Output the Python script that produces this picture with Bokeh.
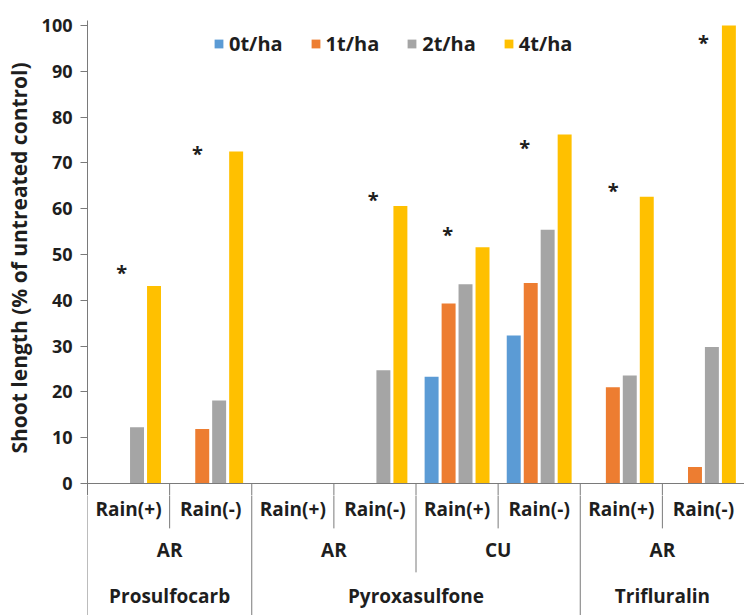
from bokeh.plotting import figure
from bokeh.layouts import column
from bokeh.models import (FactorRange, Range1d, ColumnDataSource, Legend, LegendItem,
                          FixedTicker, Span)
from bokeh.transform import dodge
from bokeh.core.properties import value
from bokeh.embed import file_html
from bokeh.resources import INLINE

# ---------------- data ----------------
herbicides = ["Prosulfocarb", "Prosulfocarb", "Pyroxasulfone", "Pyroxasulfone",
              "Pyroxasulfone", "Pyroxasulfone", "Trifluralin", "Trifluralin"]
soils = ["AR", "AR", "AR", "AR", "CU", "CU", "AR", "AR"]
rain = ["Rain(+)", "Rain(-)", "Rain(+)", "Rain(-)", "Rain(+)", "Rain(-)", "Rain(+)", "Rain(-)"]
series = ["0t/ha", "1t/ha", "2t/ha", "4t/ha"]
v0 = [0, 0, 0, 0, 23.3, 32.3, 0, 0]
v1 = [0, 11.9, 0, 0, 39.3, 43.8, 21.0, 3.6]
v2 = [12.3, 18.1, 0, 24.7, 43.5, 55.4, 23.6, 29.8]
v4 = [43.1, 72.5, 0, 60.6, 51.6, 76.2, 62.6, 100.0]
# significance markers (group index, height)
star_idx = [0, 1, 3, 4, 5, 6, 7]
star_y = [46.1, 72.0, 62.0, 54.4, 73.4, 64.0, 96.3]
y_ticks = [0, 10, 20, 30, 40, 50, 60, 70, 80, 90, 100]
y_title = "Shoot length (% of untreated control)"

colors = ["#5B9BD5", "#ED7D31", "#A5A5A5", "#FFC000"]
FONT = "Open Sans"
TXT = "#1e1e1e"
LINE = "#7a7a7a"

factors = list(zip(herbicides, soils, rain))
src = ColumnDataSource(dict(x=factors, v0=v0, v1=v1, v2=v2, v4=v4, rain=rain))

x_range = FactorRange(factors=factors, factor_padding=0, subgroup_padding=0,
                      group_padding=0, range_padding=0)

SPLIT = -2.62  # value where the chart panel hands over to the label panel

# group separator lines (full / soil / rain level)
sep_y = []
for i in range(8):
    if i == 0 or herbicides[i] != herbicides[i - 1]:
        sep_y.append(-30)
    elif soils[i] != soils[i - 1]:
        sep_y.append(-19.4)
    else:
        sep_y.append(-9.8)
sep_src = ColumnDataSource(dict(x=factors, y1=sep_y, y0=[0] * 8))

# ---------------- main chart ----------------
p = figure(width=744, height=495, x_range=x_range, y_range=Range1d(SPLIT, 101.09),
           output_backend="svg", toolbar_location=None, x_axis_location=None,
           min_border_left=87, min_border_right=0, min_border_top=20, min_border_bottom=0)
p.outline_line_color = None
p.xgrid.visible = False
p.ygrid.visible = False
p.background_fill_color = "white"
p.border_fill_color = "white"

offsets = [-0.31, -0.103, 0.103, 0.31]
cols = ["v0", "v1", "v2", "v4"]
renderers = []
for off, c, col in zip(offsets, cols, colors):
    r = p.vbar(x=dodge("x", off, range=p.x_range), top=c, width=0.17, bottom=0,
               source=src, fill_color=col, line_color=None)
    renderers.append(r)

star_dx = [-0.085, -0.16, -0.02, -0.115, -0.175, -0.10, 0.0]
star_src = ColumnDataSource(dict(
    x=[tuple(list(factors[i]) + [d]) for i, d in zip(star_idx, star_dx)],
    y=star_y, t=["*"] * len(star_idx)))
p.text(x="x", y="y", text="t", source=star_src, text_font=value(FONT),
       text_font_size="20px", text_font_style="bold", text_color=TXT,
       text_align="center", text_baseline="middle")

p.add_layout(Span(location=0, dimension="width", line_color=LINE, line_width=1))
p.segment(x0=dodge("x", -0.5, range=x_range), x1=dodge("x", -0.5, range=x_range),
          y0="y0", y1="y1", source=sep_src, line_color=LINE, line_width=1)

ax = p.yaxis[0]
ax.ticker = FixedTicker(ticks=y_ticks)
ax.axis_label = y_title
ax.axis_label_text_font = FONT
ax.axis_label_text_font_size = "21px"
ax.axis_label_text_font_style = "bold"
ax.axis_label_text_color = TXT
ax.axis_label_standoff = 6
ax.major_label_text_font = FONT
ax.major_label_text_font_size = "18px"
ax.major_label_text_font_style = "bold"
ax.major_label_text_color = TXT
ax.major_label_standoff = 8
ax.major_tick_out = 7
ax.major_tick_in = 0
ax.minor_tick_out = 0
ax.minor_tick_in = 0
ax.axis_line_color = LINE
ax.major_tick_line_color = LINE

legend = Legend(items=[LegendItem(label=s, renderers=[r]) for s, r in zip(series, renderers)],
                orientation="horizontal", location=(126, 438), padding=0, margin=0,
                spacing=27, glyph_width=11, glyph_height=11, label_standoff=5,
                label_text_font=FONT, label_text_font_size="20px",
                label_text_font_style="bold", label_text_color=TXT,
                border_line_color=None, background_fill_alpha=0)
p.add_layout(legend)

# ---------------- category axis area ----------------
q = figure(width=744, height=120, x_range=x_range, y_range=Range1d(-28.82, SPLIT),
           output_backend="svg", toolbar_location=None, x_axis_location=None,
           y_axis_location=None,
           min_border_left=87, min_border_right=0, min_border_top=0, min_border_bottom=0)
q.outline_line_color = None
q.xgrid.visible = False
q.ygrid.visible = False
q.background_fill_color = "white"
q.border_fill_color = "white"

q.segment(x0=dodge("x", -0.5, range=x_range), x1=dodge("x", -0.5, range=x_range),
          y0="y0", y1="y1", source=sep_src, line_color=LINE, line_width=1)

LBL = "19px"
q.text(x="x", y=SPLIT - 0.15, text="rain", source=src, text_font=value(FONT),
       text_font_size=LBL, text_font_style="bold", text_color=TXT,
       text_align="center", text_baseline="top")
soil_x = [("Prosulfocarb", "AR"), ("Pyroxasulfone", "AR"), ("Pyroxasulfone", "CU"),
          ("Trifluralin", "AR")]
soil_src = ColumnDataSource(dict(x=soil_x, t=[s[1] for s in soil_x]))
q.text(x="x", y=-14.6, text="t", source=soil_src, text_font=value(FONT),
       text_font_size=LBL, text_font_style="bold", text_color=TXT,
       text_align="center", text_baseline="middle")
herb_x = ["Prosulfocarb", "Pyroxasulfone", "Trifluralin"]
herb_src = ColumnDataSource(dict(x=herb_x, t=herb_x))
q.text(x="x", y=-24.5, text="t", source=herb_src, text_font=value(FONT),
       text_font_size=LBL, text_font_style="bold", text_color=TXT,
       text_align="center", text_baseline="middle")

layout = column(p, q, spacing=0)
open("out.html", "w").write(file_html(layout, INLINE))
